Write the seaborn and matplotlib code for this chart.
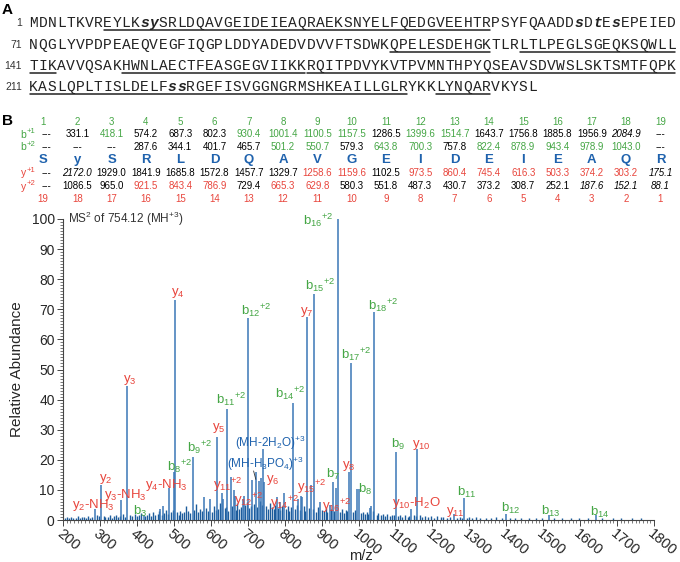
import matplotlib
matplotlib.use("Agg")
import matplotlib.pyplot as plt
import seaborn as sns
import pandas as pd

# ---------------- data ----------------
seq_lines = [
    "MDNLTKVREYLKsySRLDQAVGEIDEIEAQRAEKSNYELFQEDGVEEHTRPSYFQAADDsDtEsEPEIED",
    "NQGLYVPDPEAEQVEGFIQGPLDDYADEDVDVVFTSDWKQPELESDEHGKTLRLTLPEGLSGEQKSQWLL",
    "TIKAVVQSAKHWNLAECTFEASGEGVIIKKRQITPDVYKVTPVMNTHPYQSEAVSDVWSLSKTSMTFQPK",
    "KASLQPLTISLDELFssRGEFISVGGNGRMSHKEAILLGLRYKKLYNQARVKYSL",
]
seq_starts = [1, 71, 141, 211]
phospho_sites = [13, 14, 60, 62, 64, 226, 227]
peptide_ranges = [(9, 50), (110, 120), (124, 143), (151, 170), (171, 210),
                  (211, 251), (255, 260)]

residues = ["S", "y", "S", "R", "L", "D", "Q", "A", "V", "G", "E", "I", "D",
            "E", "I", "E", "A", "Q", "R"]
b_plus1 = [None, 331.1, 418.1, 574.2, 687.3, 802.3, 930.4, 1001.4, 1100.5,
           1157.5, 1286.5, 1399.6, 1514.7, 1643.7, 1756.8, 1885.8, 1956.9,
           2084.9, None]
b_plus2 = [None, None, None, 287.6, 344.1, 401.7, 465.7, 501.2, 550.7, 579.3,
           643.8, 700.3, 757.8, 822.4, 878.9, 943.4, 978.9, 1043.0, None]
y_plus1 = [None, 2172.0, 1929.0, 1841.9, 1685.8, 1572.8, 1457.7, 1329.7,
           1258.6, 1159.6, 1102.5, 973.5, 860.4, 745.4, 616.3, 503.3, 374.2,
           303.2, 175.1]
y_plus2 = [None, 1086.5, 965.0, 921.5, 843.4, 786.9, 729.4, 665.3, 629.8,
           580.3, 551.8, 487.3, 430.7, 373.2, 308.7, 252.1, 187.6, 152.1, 88.1]
# status: o = observed, k = not observed, i = italic, - = none
b_plus1_status = "-kokkkooookookkkki-"
b_plus2_status = "---kkkkookookoooo" + "o-"
y_plus1_status = "-ikkkkkkookoooooooi"
y_plus2_status = "-kkoookookkkkkkkiii"

# labelled fragment peaks: (m/z, relative abundance)
frag_names = ["b16+2", "b15+2", "y7", "b12+2", "y4", "y3", "b18+2", "b17+2",
              "b14+2", "b11+2", "y5", "b9+2", "b8+2", "MH-2H2O", "MH-H3PO4",
              "y6", "y2", "y2-NH3", "y3-NH3", "y4-NH3", "b3", "y11+2", "y12+2",
              "y14+2", "y15+2", "b7", "y8", "y16+2", "b8", "b9", "y10",
              "y10-H2O", "y11", "b11", "b12", "b13", "b14"]
frag_mz = [943.4, 878.9, 860.4, 700.3, 503.3, 374.2, 1043.0, 978.9, 822.4,
           643.8, 616.3, 550.7, 501.2, 742.1, 721.5, 745.4, 303.2, 286.2,
           357.2, 486.3, 418.1, 629.8, 665.3, 786.9, 843.4, 930.4, 973.5,
           921.5, 1001.4, 1100.5, 1159.6, 1141.6, 1258.6, 1286.5, 1399.6,
           1514.7, 1643.7]
frag_int = [100, 75, 67.5, 67, 73, 44.6, 69, 52, 39, 37, 27.7, 21, 16, 23.5,
            15.8, 12.6, 11.6, 3.5, 6.6, 10.5, 1.5, 9, 8, 6, 8, 12.7, 16, 5,
            10.4, 22.7, 23.5, 3.7, 2, 7.2, 2, 1.5, 1.5]

minor_mz = [463, 470, 581.7, 598, 634, 654, 663, 686, 690, 712.6, 729.7,
            736.9, 778.5, 798, 837, 847, 871, 896, 938, 996.6, 1031, 1033.5]
minor_int = [3.5, 4.5, 7.8, 7, 7, 14.4, 10, 7, 8, 13.3, 13, 14, 7.6, 9, 7,
             7.6, 11.5, 6, 10.5, 10.2, 4, 4.5]

grass_mz = [
    205, 211, 217, 223, 228, 234, 240, 246, 252, 257,
    262, 268, 274, 279, 292, 297, 310, 315, 321, 327,
    333, 339, 344, 350, 355, 363, 369, 381, 388, 394,
    399, 405, 411, 422, 427, 433, 439, 445, 450, 456,
    461, 467, 473, 478, 484, 493, 497, 508, 513, 518,
    523, 528, 534, 539, 544, 556, 561, 566, 571, 577,
    586, 592, 603, 608, 613, 620, 624, 638, 642, 648,
    657, 668, 672, 676, 681, 694, 697, 704, 708, 716,
    725, 733, 740, 750, 756, 760, 765, 770, 775, 783,
    788, 792, 803, 808, 813, 818, 828, 833, 841, 852,
    856, 865, 876, 884, 890, 901, 906, 911, 916, 926,
    935, 950, 955, 960, 966, 970, 985, 990, 1008, 1013,
    1018, 1023, 1027, 1038, 1049, 1054, 1060, 1066, 1072, 1078,
    1084, 1090, 1096, 1107, 1113, 1119, 1126, 1133, 1138, 1150,
    1155, 1166, 1172, 1180, 1188, 1196, 1205, 1213, 1222, 1230,
    1239, 1248, 1266, 1275, 1281, 1294, 1300, 1308, 1318, 1330,
    1345, 1360, 1372, 1388, 1410, 1425, 1440, 1462, 1480, 1497,
    1530, 1552, 1575, 1598, 1620, 1660, 1690, 1712, 1740, 1765]
grass_int = [
    0.6, 0.9, 0.5, 1.1, 0.7, 0.8, 1.2, 0.6, 0.9, 1.0,
    0.7, 1.3, 0.8, 1.0, 1.6, 1.2, 1.4, 0.9, 1.1, 1.5,
    0.8, 1.2, 1.7, 1.0, 1.3, 2.0, 1.1, 1.6, 1.3, 1.9,
    1.2, 1.8, 2.4, 1.4, 1.7, 2.2, 1.3, 2.6, 1.8, 2.1,
    2.9, 1.6, 2.3, 3.2, 1.9, 2.7, 3.4, 2.5, 1.8, 3.0,
    2.2, 2.8, 4.6, 3.1, 2.4, 3.3, 5.2, 2.6, 3.8, 2.9,
    4.1, 3.0, 2.7, 4.5, 3.2, 3.6, 5.8, 3.9, 4.4, 3.1,
    4.8, 3.4, 5.5, 3.7, 4.2, 5.0, 6.1, 3.9, 4.6, 5.4,
    4.3, 6.2, 5.1, 4.7, 3.8, 5.6, 4.4, 3.5, 4.9, 4.0,
    3.3, 4.5, 3.6, 4.8, 3.1, 4.2, 3.7, 5.1, 3.4, 4.6,
    3.0, 4.1, 3.5, 2.8, 4.4, 3.2, 2.9, 3.9, 2.6, 3.6,
    3.1, 2.7, 3.8, 2.4, 3.3, 2.9, 2.5, 3.4, 2.2, 2.8,
    1.9, 2.6, 2.1, 2.9, 1.7, 2.3, 1.5, 1.9, 1.4, 2.0,
    1.3, 1.7, 1.6, 1.2, 1.5, 1.1, 1.8, 1.0, 1.4, 1.6,
    1.2, 1.5, 0.9, 1.3, 1.0, 1.2, 0.8, 1.4, 0.9, 1.1,
    0.7, 1.0, 0.8, 0.9, 0.7, 0.8, 1.1, 0.6, 0.9, 0.7,
    0.8, 0.6, 0.9, 0.5, 0.7, 0.6, 0.8, 0.5, 0.7, 0.6,
    0.5, 0.7, 0.6, 0.5, 0.6, 0.8, 0.5, 0.6, 0.5, 0.6]

x_ticks = list(range(200, 1801, 100))
y_ticks = list(range(0, 101, 10))

# ---------------- style ----------------
sns.set_theme(style="ticks")
plt.rcParams["font.family"] = ["Liberation Sans", "DejaVu Sans"]
plt.rcParams["mathtext.fontset"] = "custom"
plt.rcParams["mathtext.rm"] = "Liberation Sans"
plt.rcParams["mathtext.it"] = "Liberation Sans:italic"
plt.rcParams["mathtext.bf"] = "Liberation Sans:bold"
plt.rcParams["mathtext.default"] = "regular"

GREEN = "#45a645"
RED = "#e8453c"
BLUE = "#1f62ad"
PEAK = "#3a77b6"
GRASS = "#1d5c9c"
GREY = "#333333"

W, H = 680, 562
fig = plt.figure(figsize=(6.8, 5.62), dpi=100)


def fx(x):
    return x / W


def fy(y):
    return 1 - y / H


# ---------------- panel A ----------------
fig.text(fx(2), fy(10), "A", fontsize=11, fontweight="bold", ha="left",
         va="center", color="black")
x0, dx = 29.0, 9.24
line_y = [23, 45, 66, 87]
mono = "Liberation Mono"
for li, (line, start) in enumerate(zip(seq_lines, seq_starts)):
    yy = line_y[li]
    fig.text(fx(22), fy(yy), str(start), fontsize=7.5, ha="right",
             va="center", color=GREY)
    for ci, ch in enumerate(line):
        resnum = start + ci
        mod = resnum in phospho_sites
        fig.text(fx(x0 + (ci + 0.5) * dx), fy(yy), ch, family=mono,
                 fontsize=10.5, ha="center", va="center", color="#222222",
                 fontweight="bold" if mod else "normal",
                 fontstyle="italic" if mod else "normal")
    end = start + len(line) - 1
    for (a, b) in peptide_ranges:
        lo, hi = max(a, start), min(b, end)
        if lo > hi:
            continue
        xa = x0 + (lo - start) * dx + 0.8
        xb = x0 + (hi - start + 1) * dx - 0.8
        fig.add_artist(plt.Line2D([fx(xa), fx(xb)], [fy(yy + 7), fy(yy + 7)],
                                  color="#222222", lw=1.1))

# ---------------- panel B table ----------------
fig.text(fx(2), fy(121), "B", fontsize=11, fontweight="bold", ha="left",
         va="center", color="black")
col_x = [43 + 34.3 * k for k in range(19)]
row_y = {"bi": 121.7, "b1": 134, "b2": 147, "aa": 160, "y1": 173,
         "y2": 186, "yi": 198.5}
NUM_FS = 7.0

for k, xx in enumerate(col_x):
    fig.text(fx(xx), fy(row_y["bi"]), str(k + 1), fontsize=NUM_FS,
             color=GREEN, ha="center", va="center")
    fig.text(fx(xx), fy(row_y["yi"]), str(19 - k), fontsize=NUM_FS,
             color=RED, ha="center", va="center")
    fig.text(fx(xx), fy(row_y["aa"]), residues[k], fontsize=9.5,
             fontweight="bold", color=BLUE, ha="center", va="center")

for key, vals, status, col, base, sup in [
        ("b1", b_plus1, b_plus1_status, GREEN, "b", "+1"),
        ("b2", b_plus2, b_plus2_status, GREEN, "b", "+2"),
        ("y1", y_plus1, y_plus1_status, RED, "y", "+1"),
        ("y2", y_plus2, y_plus2_status, RED, "y", "+2")]:
    fig.text(fx(26), fy(row_y[key] + 0.5), base, fontsize=7.5, color=col,
             ha="right", va="center")
    fig.text(fx(26.3), fy(row_y[key] - 2.5), sup, fontsize=5.5, color=col,
             ha="left", va="center")
    for k, (v, s) in enumerate(zip(vals, status)):
        if v is None:
            txt, c, st = "---", "black", "normal"
        else:
            txt = f"{v:.1f}"
            c = col if s == "o" else "black"
            st = "italic" if s == "i" else "normal"
        fig.text(fx(col_x[k] + (3 if v is None and k == 0 else 0)),
                 fy(row_y[key]), txt, fontsize=NUM_FS,
                 color=c, fontstyle=st, ha="center", va="center")

# ---------------- spectrum ----------------
ax = fig.add_axes([fx(63), fy(520), (654 - 63) / W, (520 - 219) / H])
peaks = pd.DataFrame({"mz": frag_mz + minor_mz + grass_mz,
                      "intensity": frag_int + minor_int + grass_int,
                      "kind": ["frag"] * len(frag_mz) + ["minor"] * len(minor_mz)
                      + ["grass"] * len(grass_mz)})
g = peaks[peaks.kind == "grass"]
ax.vlines(g.mz, 0, g.intensity, color=GRASS, lw=1.0)
m = peaks[peaks.kind != "grass"]
ax.vlines(m.mz, 0, m.intensity, color=PEAK, lw=1.1)

ax.set_xlim(200, 1800)
ax.set_ylim(0, 100)
ax.set_xticks(x_ticks)
ax.set_yticks(y_ticks)
ax.set_xticks(range(200, 1801, 10), minor=True)
ax.set_yticks(range(0, 101, 1), minor=True)
ax.tick_params(axis="both", which="major", direction="out", length=4,
               width=0.7, color="#444444", labelsize=10, pad=2)
ax.tick_params(axis="x", which="major", labelsize=10.5, pad=1)
ax.tick_params(axis="both", which="minor", direction="out", length=2,
               width=0.5, color="#444444")
for lbl in ax.get_xticklabels():
    lbl.set_rotation(-40)
    lbl.set_ha("left")
    lbl.set_va("top")
    lbl.set_rotation_mode("anchor")
sns.despine(ax=ax)
for sp in ["left", "bottom"]:
    ax.spines[sp].set_linewidth(0.8)
    ax.spines[sp].set_color("#444444")
ax.set_facecolor("none")
ax.set_ylabel("Relative Abundance", fontsize=11)
ax.yaxis.set_label_coords(-(63 - 24) / (654 - 63), 0.5)
fig.text(fx(361), fy(556), "m/z", fontsize=10.5, ha="center", va="center")
fig.text(fx(68), fy(219), "MS$^2$ of 754.12 (MH$^{+3}$)", fontsize=8.5,
         color=GREY, ha="left", va="center")

labels = [
    ("b$_{16}{}^{+2}$", 890, 99.7, GREEN),
    ("b$_{15}{}^{+2}$", 897, 78, GREEN),
    ("y$_7$", 859, 69.2, RED),
    ("b$_{12}{}^{+2}$", 724, 69.8, GREEN),
    ("y$_4$", 512, 75.3, RED),
    ("y$_3$", 381, 46.5, RED),
    ("b$_{18}{}^{+2}$", 1067, 71.4, GREEN),
    ("b$_{17}{}^{+2}$", 995, 55.1, GREEN),
    ("b$_{14}{}^{+2}$", 814, 42.1, GREEN),
    ("b$_{11}{}^{+2}$", 655, 40.1, GREEN),
    ("y$_5$", 621, 30.5, RED),
    ("b$_9{}^{+2}$", 571, 24, GREEN),
    ("b$_8{}^{+2}$", 517, 17.9, GREEN),
    ("(MH-2H$_2$O)$^{+3}$", 762, 25.5, BLUE),
    ("(MH-H$_3$PO$_4$)$^{+3}$", 749, 18.6, BLUE),
    ("y$_6$", 767, 13.2, RED),
    ("y$_2$", 316, 13.6, RED),
    ("y$_2$-NH$_3$", 282, 5, RED),
    ("y$_3$-NH$_3$", 368, 8.3, RED),
    ("y$_4$-NH$_3$", 481, 11.6, RED),
    ("b$_3$", 408, 2.8, GREEN),
    ("y$_{11}{}^{+2}$", 646, 11.6, RED),
    ("y$_{12}{}^{+2}$", 703, 6.6, RED),
    ("y$_{14}{}^{+2}$", 801, 5.8, RED),
    ("y$_{15}{}^{+2}$", 873, 11, RED),
    ("b$_7$", 932, 15, GREEN),
    ("y$_8$", 974, 18, RED),
    ("y$_{16}{}^{+2}$", 941, 4.7, RED),
    ("b$_8$", 1019, 10.2, GREEN),
    ("b$_9$", 1108, 25, GREEN),
    ("y$_{10}$", 1171, 25, RED),
    ("y$_{10}$-H$_2$O", 1157, 5.8, RED),
    ("y$_{11}$", 1261, 2.8, RED),
    ("b$_{11}$", 1294, 9.1, GREEN),
    ("b$_{12}$", 1413, 3.9, GREEN),
    ("b$_{13}$", 1521, 2.8, GREEN),
    ("b$_{14}$", 1654, 2.4, GREEN),
]
for txt, lx, ly, c in labels:
    fs = 8.5 if c == BLUE else 9.5
    ax.text(lx, ly, txt, fontsize=fs, color=c, ha="center", va="center",
            clip_on=False)
ax.plot([716, 722], [16.3, 13.5], color=GREY, lw=0.6)

fig.savefig("out.png", dpi=100)
